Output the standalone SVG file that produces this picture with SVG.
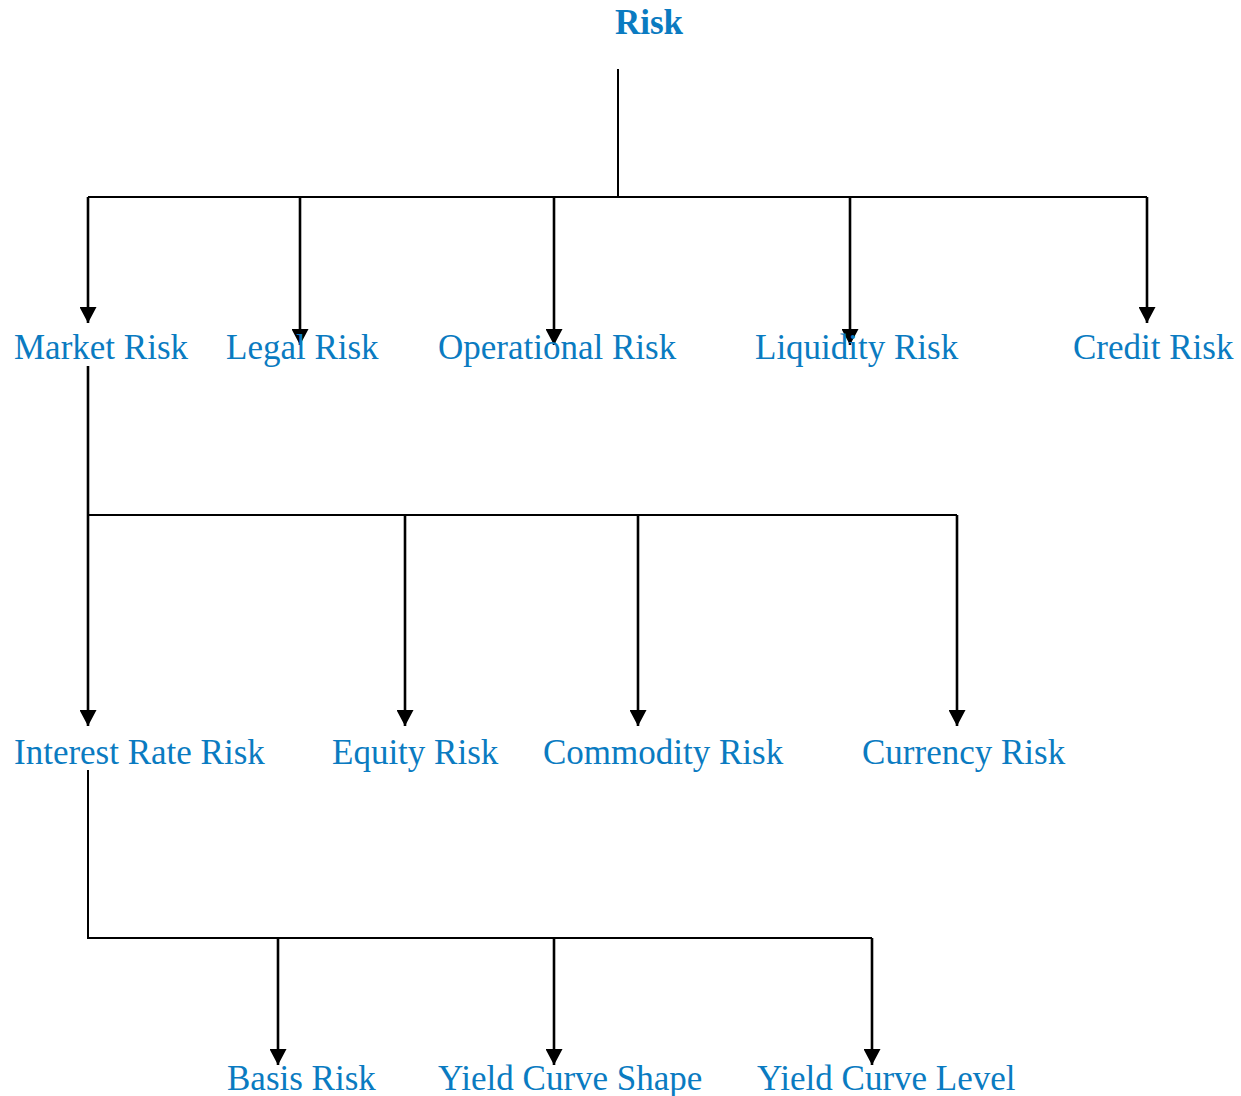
<svg xmlns="http://www.w3.org/2000/svg" width="1241" height="1096" viewBox="0 0 1241 1096">
<style>
.lbl{font-family:"Liberation Serif","Times New Roman",serif;font-size:35px;fill:#0a7bc1}
.title{font-weight:bold}
.c{fill:none;stroke:#000;stroke-width:2}
.d{fill:none;stroke:#000;stroke-width:2.6}
</style>
<defs>
<marker id="ah" viewBox="0 0 16 17" refX="16" refY="8.5" markerWidth="16" markerHeight="17" markerUnits="userSpaceOnUse" orient="auto">
<path d="M0,0 L16,8.5 L0,17 z" fill="#000"/>
</marker>
</defs>
<rect width="1241" height="1096" fill="#fff"/>
<g id="connectors">
<path class="c" d="M618,69 V197" stroke-width="1.6"/>
<path class="c" d="M88,197 H1147"/>
<path class="d" d="M88,197 V323" marker-end="url(#ah)"/>
<path class="d" d="M300,197 V345" marker-end="url(#ah)"/>
<path class="d" d="M554,197 V345" marker-end="url(#ah)"/>
<path class="d" d="M850,197 V345" marker-end="url(#ah)"/>
<path class="d" d="M1147,197 V323" marker-end="url(#ah)"/>
<path class="d" d="M88,366 V726" marker-end="url(#ah)"/>
<path class="c" d="M88,515 H957"/>
<path class="d" d="M405,515 V726" marker-end="url(#ah)"/>
<path class="d" d="M638,515 V726" marker-end="url(#ah)"/>
<path class="d" d="M957,515 V726" marker-end="url(#ah)"/>
<path class="c" d="M88,770 V938 H872"/>
<path class="d" d="M278,938 V1065" marker-end="url(#ah)"/>
<path class="d" d="M554,938 V1065" marker-end="url(#ah)"/>
<path class="d" d="M872,938 V1065" marker-end="url(#ah)"/>
</g>
<g id="risk"><text class="lbl title" x="615" y="34">Risk</text></g>
<g id="market"><text class="lbl" x="14" y="359">Market Risk</text></g>
<g id="legal"><text class="lbl" x="226" y="359">Legal Risk</text></g>
<g id="operational"><text class="lbl" x="438" y="359">Operational Risk</text></g>
<g id="liquidity"><text class="lbl" x="755" y="359">Liquidity Risk</text></g>
<g id="credit"><text class="lbl" x="1073" y="359">Credit Risk</text></g>
<g id="interest"><text class="lbl" x="14" y="764">Interest Rate Risk</text></g>
<g id="equity"><text class="lbl" x="332" y="764">Equity Risk</text></g>
<g id="commodity"><text class="lbl" x="543" y="764">Commodity Risk</text></g>
<g id="currency"><text class="lbl" x="862" y="764">Currency Risk</text></g>
<g id="basis"><text class="lbl" x="227" y="1090">Basis Risk</text></g>
<g id="ycshape"><text class="lbl" x="438" y="1090">Yield Curve Shape</text></g>
<g id="yclevel"><text class="lbl" x="757" y="1090">Yield Curve Level</text></g>
</svg>
